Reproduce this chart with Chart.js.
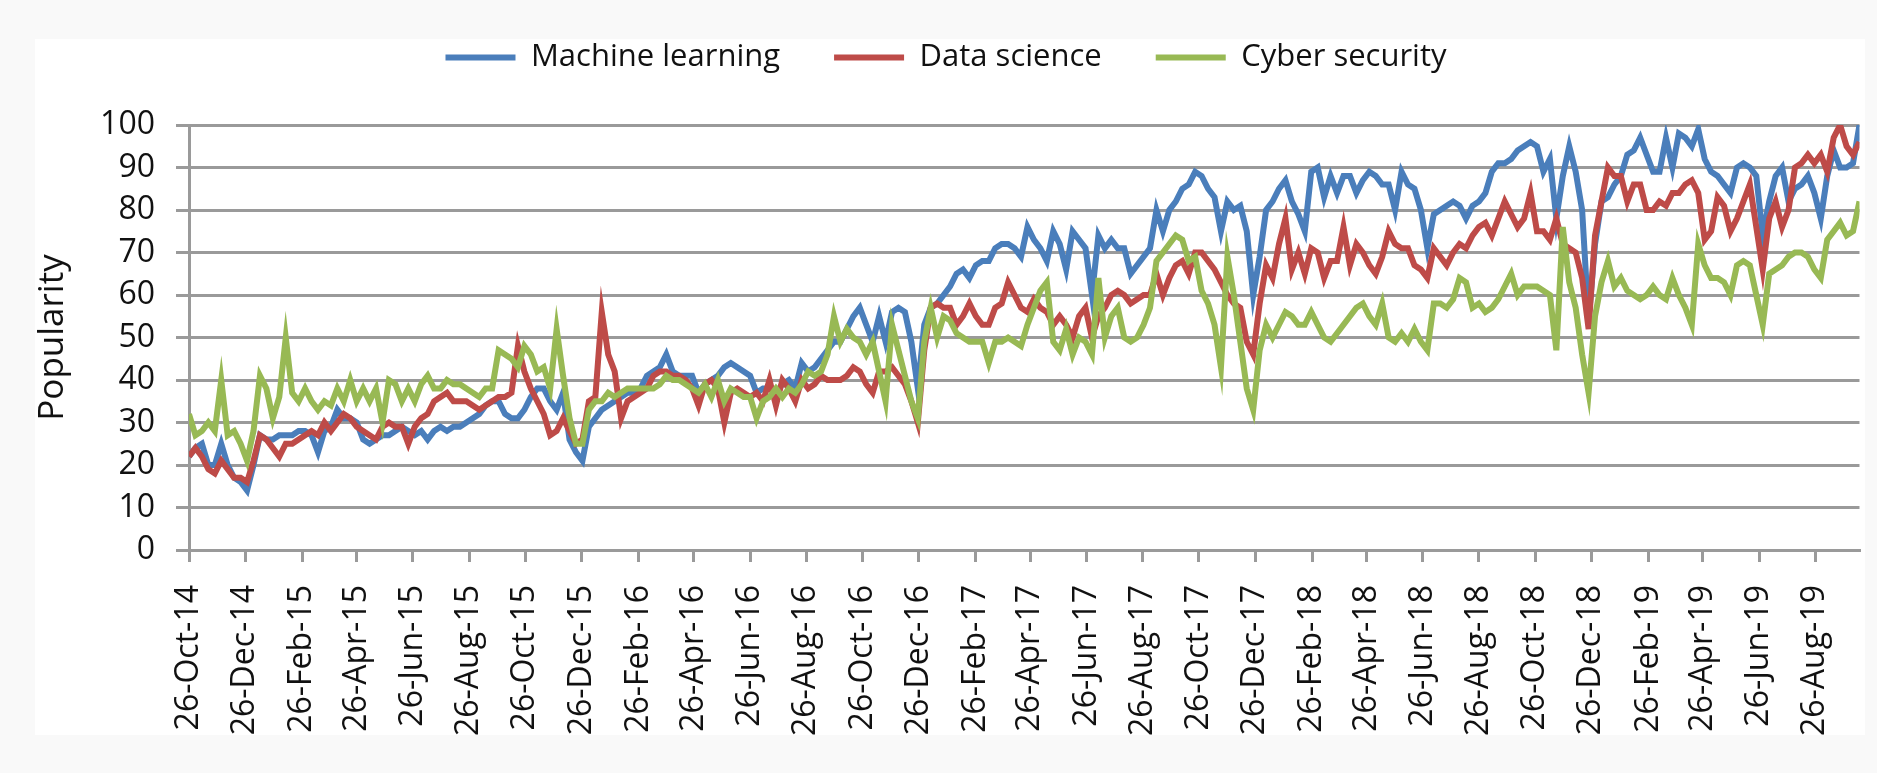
<!DOCTYPE html>
<html>
<head>
<meta charset="utf-8">
<title>Popularity</title>
<script src="https://cdn.jsdelivr.net/npm/chart.js"></script>
<style>
  html, body { margin: 0; padding: 0; background: #f9f9f9; }
  #wrap { position: relative; width: 1877px; height: 773px; }
  #panel { position: absolute; left: 35px; top: 39px; width: 1830px; height: 696px; background: #fff; }
  #chart { position: absolute; left: 0; top: 0; }
</style>
</head>
<body>
<div id="wrap">
  <div id="panel"></div>
  <canvas id="chart" width="1877" height="773"></canvas>
</div>
<script>
// weekly series, first week = 26-Oct-14
const firstWeek = '26-Oct-14';

const machineLearning = [
  22, 24, 25, 20, 20, 25, 20, 17, 16, 14,
  20, 27, 26, 26, 27, 27, 27, 28, 28, 27,
  23, 28, 29, 33, 31, 31, 30, 26, 25, 26,
  27, 27, 28, 29, 28, 27, 28, 26, 28, 29,
  28, 29, 29, 30, 31, 32, 34, 35, 35, 32,
  31, 31, 33, 36, 38, 38, 35, 33, 37, 26,
  23, 21, 29, 31, 33, 34, 35, 36, 37, 37,
  38, 41, 42, 43, 46, 42, 41, 41, 41, 37,
  39, 40, 41, 43, 44, 43, 42, 41, 37, 38,
  38, 37, 39, 40, 38, 44, 42, 43, 45, 47,
  49, 49, 52, 55, 57, 53, 49, 55, 49, 56,
  57, 56, 49, 38, 53, 57, 58, 60, 62, 65,
  66, 64, 67, 68, 68, 71, 72, 72, 71, 69,
  76, 73, 71, 68, 75, 72, 66, 75, 73, 71,
  60, 74, 71, 73, 71, 71, 65, 67, 69, 71,
  80, 75, 80, 82, 85, 86, 89, 88, 85, 83,
  75, 82, 80, 81, 75, 60, 69, 80, 82, 85,
  87, 82, 79, 75, 89, 90, 83, 88, 84, 88,
  88, 84, 87, 89, 88, 86, 86, 80, 89, 86,
  85, 80, 71, 79, 80, 81, 82, 81, 78, 81,
  82, 84, 89, 91, 91, 92, 94, 95, 96, 95,
  89, 92, 78, 88, 95, 89, 80, 54, 72, 82,
  83, 86, 88, 93, 94, 97, 93, 89, 89, 97,
  90, 98, 97, 95, 99, 92, 89, 88, 86, 84,
  90, 91, 90, 88, 74, 82, 88, 90, 82, 85,
  86, 88, 84, 78, 88, 94, 90, 90, 91, 100
];

const dataScience = [
  22, 24, 22, 19, 18, 21, 19, 17, 17, 16,
  21, 27, 26, 24, 22, 25, 25, 26, 27, 28,
  27, 30, 28, 30, 32, 31, 29, 28, 27, 26,
  29, 30, 29, 29, 25, 29, 31, 32, 35, 36,
  37, 35, 35, 35, 34, 33, 34, 35, 36, 36,
  37, 48, 42, 38, 35, 32, 27, 28, 31, 28,
  25, 26, 35, 36, 56, 46, 42, 31, 35, 36,
  37, 38, 41, 42, 42, 41, 41, 40, 38, 34,
  39, 40, 38, 30, 37, 38, 37, 36, 37, 35,
  40, 34, 40, 38, 35, 40, 38, 39, 41, 40,
  40, 40, 41, 43, 42, 39, 37, 42, 42, 43,
  41, 39, 35, 30, 47, 57, 58, 57, 57, 53,
  55, 58, 55, 53, 53, 57, 58, 63, 60, 57,
  56, 59, 57, 56, 53, 55, 53, 50, 55, 57,
  50, 55, 57, 60, 61, 60, 58, 59, 60, 60,
  65, 60, 64, 67, 68, 65, 70, 70, 68, 66,
  63, 60, 58, 57, 49, 46, 58, 67, 64, 72,
  78, 66, 70, 65, 71, 70, 64, 68, 68, 76,
  67, 72, 70, 67, 65, 69, 75, 72, 71, 71,
  67, 66, 64, 71, 69, 67, 70, 72, 71, 74,
  76, 77, 74, 78, 82, 79, 76, 78, 84, 75,
  75, 73, 78, 72, 71, 70, 64, 52, 74, 82,
  90, 88, 88, 82, 86, 86, 80, 80, 82, 81,
  84, 84, 86, 87, 84, 73, 75, 83, 81, 75,
  78, 82, 86, 76, 66, 78, 82, 76, 80, 90,
  91, 93, 91, 93, 89, 97, 100, 95, 93, 96
];

const cyberSecurity = [
  32, 27, 28, 30, 28, 40, 27, 28, 25, 21,
  28, 41, 38, 31, 36, 50, 37, 35, 38, 35,
  33, 35, 34, 38, 35, 40, 35, 38, 35, 38,
  30, 40, 39, 35, 38, 35, 39, 41, 38, 38,
  40, 39, 39, 38, 37, 36, 38, 38, 47, 46,
  45, 43, 48, 46, 42, 43, 38, 52, 41, 31,
  25, 25, 33, 35, 35, 37, 36, 37, 38, 38,
  38, 38, 38, 39, 41, 40, 40, 39, 38, 37,
  39, 36, 40, 35, 38, 37, 36, 36, 31, 35,
  36, 38, 36, 38, 37, 39, 42, 41, 42, 46,
  55, 49, 52, 50, 49, 46, 49, 42, 35, 53,
  47, 41, 35, 31, 49, 57, 50, 55, 54, 51,
  50, 49, 49, 49, 44, 49, 49, 50, 49, 48,
  53, 57, 61, 63, 49, 47, 52, 46, 50, 49,
  46, 64, 50, 55, 57, 50, 49, 50, 53, 57,
  68, 70, 72, 74, 73, 68, 69, 61, 58, 53,
  43, 69, 60, 49, 38, 33, 47, 53, 50, 53,
  56, 55, 53, 53, 56, 53, 50, 49, 51, 53,
  55, 57, 58, 55, 53, 58, 50, 49, 51, 49,
  52, 49, 47, 58, 58, 57, 59, 64, 63, 57,
  58, 56, 57, 59, 62, 65, 60, 62, 62, 62,
  61, 60, 47, 76, 63, 57, 46, 37, 55, 63,
  68, 62, 64, 61, 60, 59, 60, 62, 60, 59,
  64, 60, 57, 53, 72, 67, 64, 64, 63, 60,
  67, 68, 67, 60, 53, 65, 66, 67, 69, 70,
  70, 69, 66, 64, 73, 75, 77, 74, 75, 82
];

const seriesNames = ['Machine learning', 'Data science', 'Cyber security'];

const tickLabels = [
  '26-Oct-14', '26-Dec-14', '26-Feb-15', '26-Apr-15', '26-Jun-15', '26-Aug-15',
  '26-Oct-15', '26-Dec-15', '26-Feb-16', '26-Apr-16', '26-Jun-16', '26-Aug-16',
  '26-Oct-16', '26-Dec-16', '26-Feb-17', '26-Apr-17', '26-Jun-17', '26-Aug-17',
  '26-Oct-17', '26-Dec-17', '26-Feb-18', '26-Apr-18', '26-Jun-18', '26-Aug-18',
  '26-Oct-18', '26-Dec-18', '26-Feb-19', '26-Apr-19', '26-Jun-19', '26-Aug-19'
];

const yTicks = [0, 10, 20, 30, 40, 50, 60, 70, 80, 90, 100];

const MONTHS = ['Jan', 'Feb', 'Mar', 'Apr', 'May', 'Jun', 'Jul', 'Aug', 'Sep', 'Oct', 'Nov', 'Dec'];

function toUTC(label) {
  const [d, m, y] = label.split('-');
  return Date.UTC(2000 + Number(y), MONTHS.indexOf(m), Number(d));
}

// days since the first week
const dayOf = (label) => Math.round((toUTC(label) - toUTC(firstWeek)) / 86400000);

const tickDays = tickLabels.map(dayOf);
const toPoints = (values) => values.map((v, i) => ({ x: i * 7, y: v }));
const lastDay = (machineLearning.length - 1) * 7;

const GRID = '#9a9a9a';
const TEXT = '#111111';

Chart.defaults.font.family = '"Open Sans", sans-serif';
Chart.defaults.color = TEXT;

// stretch the legend box so the plot starts at the right height
const legendHeight = {
  id: 'legendHeight',
  beforeInit(chart) {
    const fit = chart.legend.fit;
    chart.legend.fit = function () {
      fit.call(this);
      this.height = 137;
    };
  }
};

function line(label, values, color, order) {
  return {
    label: label,
    data: toPoints(values),
    borderColor: color,
    backgroundColor: color,
    borderWidth: 6,
    pointRadius: 0,
    tension: 0,
    fill: false,
    order: order
  };
}

new Chart(document.getElementById('chart').getContext('2d'), {
  type: 'line',
  data: {
    datasets: [
      line(seriesNames[0], machineLearning, '#4a7ebb', 2),
      line(seriesNames[1], dataScience, '#be4b48', 1),
      line(seriesNames[2], cyberSecurity, '#98b954', 0)
    ]
  },
  plugins: [legendHeight],
  options: {
    responsive: false,
    animation: false,
    layout: { padding: { top: -12, left: 28, right: 13, bottom: 0 } },
    plugins: {
      tooltip: { enabled: false },
      legend: {
        position: 'top',
        labels: {
          usePointStyle: true,
          pointStyle: 'line',
          pointStyleWidth: 70,
          padding: 54,
          color: TEXT,
          font: { size: 31 },
          sort: (a, b) => a.datasetIndex - b.datasetIndex
        }
      }
    },
    scales: {
      x: {
        type: 'linear',
        min: 0,
        max: lastDay,
        afterBuildTicks: (axis) => {
          axis.ticks = tickDays.map((v) => ({ value: v }));
        },
        afterFit: (axis) => {
          axis.height = 223;
        },
        grid: {
          drawOnChartArea: false,
          drawTicks: true,
          tickLength: 12,
          color: GRID,
          lineWidth: 3
        },
        border: { display: true, color: GRID, width: 3 },
        ticks: {
          autoSkip: false,
          minRotation: 90,
          maxRotation: 90,
          padding: 23,
          color: TEXT,
          font: { size: 32 },
          callback: (value, index) => tickLabels[index]
        }
      },
      y: {
        min: yTicks[0],
        max: yTicks[yTicks.length - 1],
        afterBuildTicks: (axis) => {
          axis.ticks = yTicks.map((v) => ({ value: v }));
        },
        afterFit: (axis) => {
          axis.width = 161;
        },
        grid: {
          color: GRID,
          lineWidth: 3,
          tickLength: 13
        },
        border: { display: true, color: GRID, width: 3 },
        ticks: {
          padding: 21,
          color: TEXT,
          font: { size: 32 }
        },
        title: {
          display: true,
          text: 'Popularity',
          color: TEXT,
          font: { size: 35 },
          padding: { top: 4, bottom: 0 }
        }
      }
    }
  }
});
</script>
</body>
</html>
